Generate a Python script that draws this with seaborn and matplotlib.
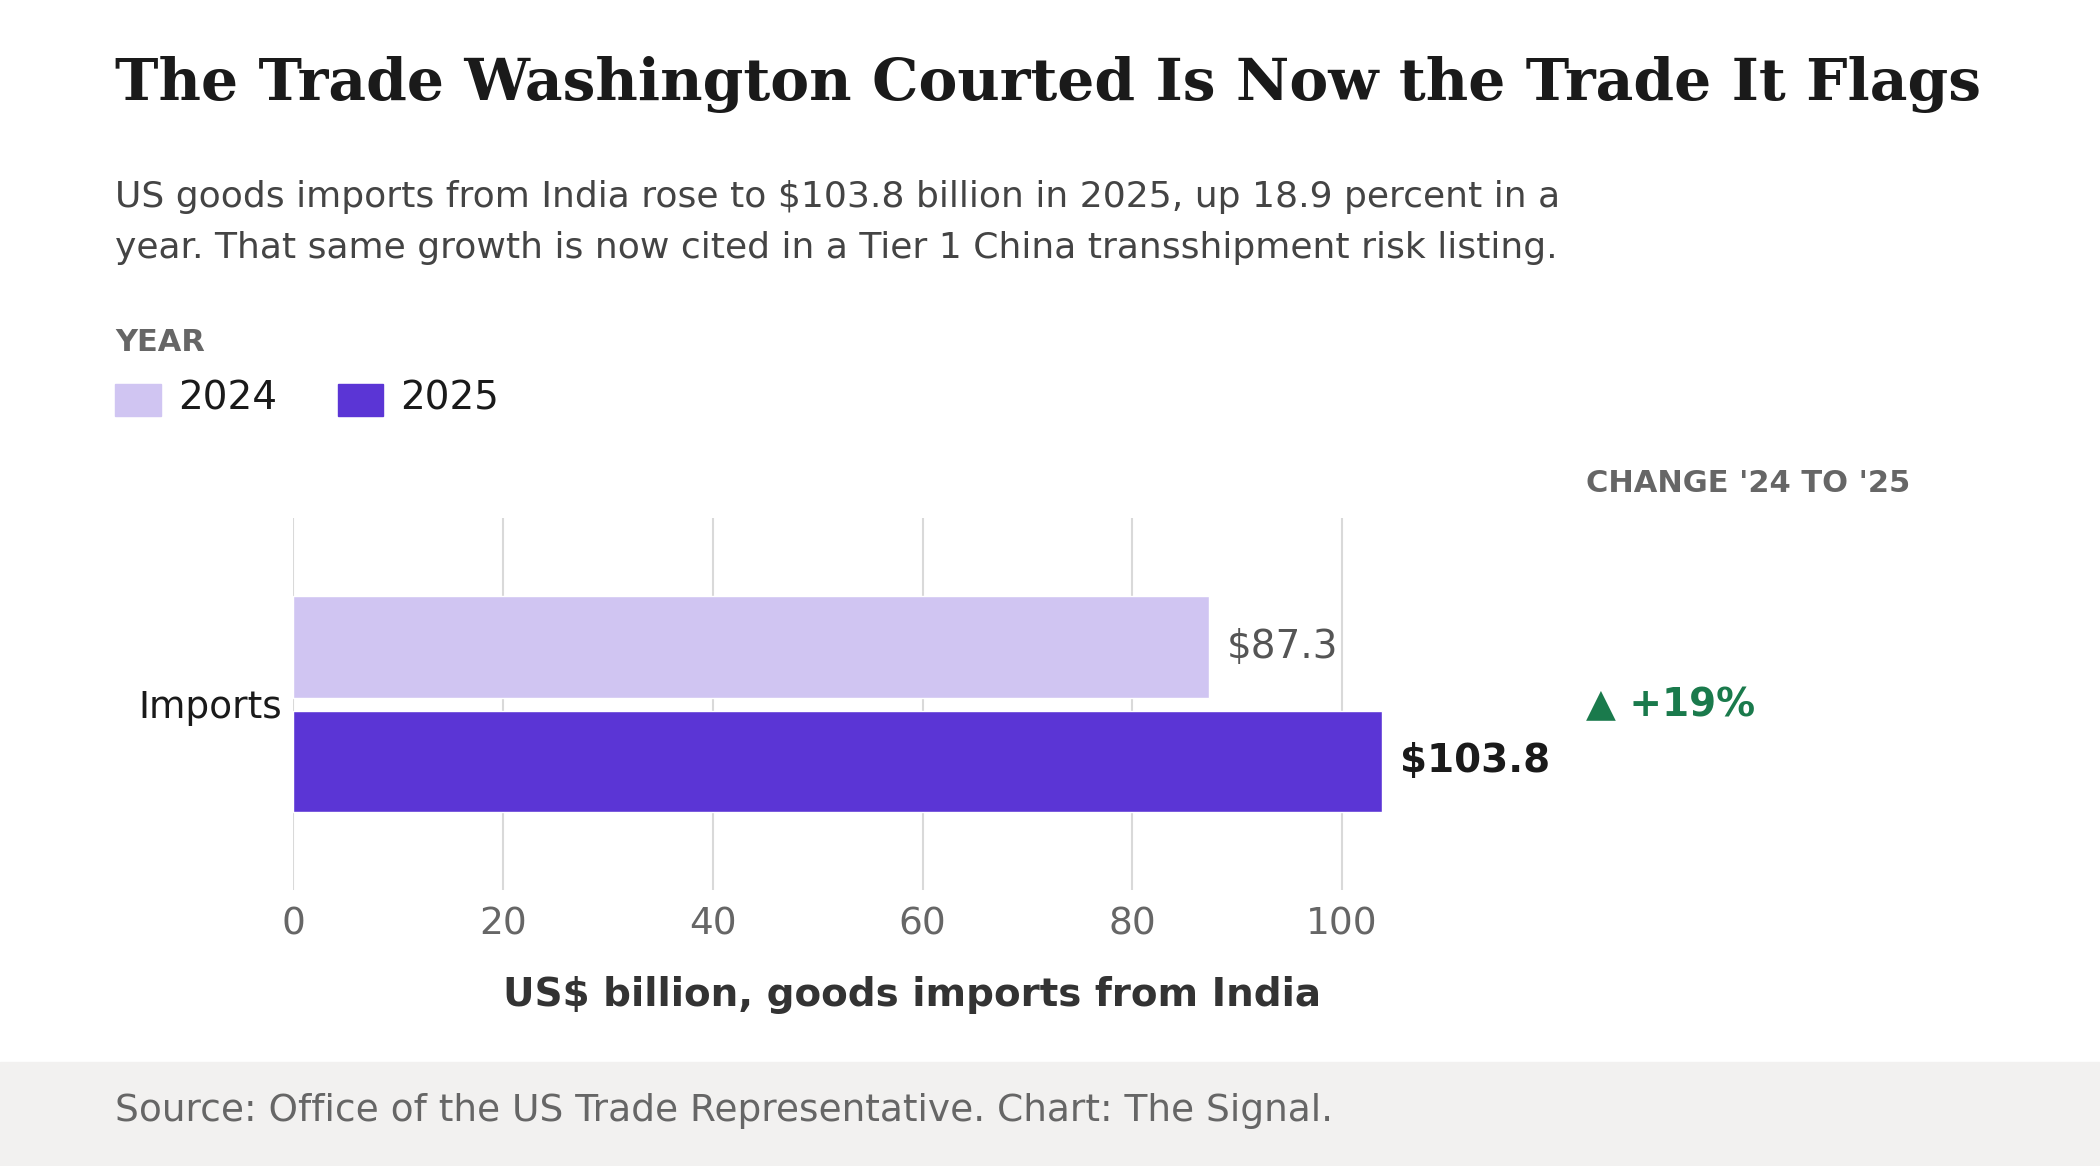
import matplotlib
matplotlib.use("Agg")
import matplotlib.pyplot as plt
import seaborn as sns
import pandas as pd
from matplotlib.patches import Rectangle

categories = ["Imports"]
years = ["2024", "2025"]
values_2024 = [87.3]
values_2025 = [103.8]
ticks = [0, 20, 40, 60, 80, 100]
change_label = "▲ +19%"

df = pd.DataFrame({
    "cat": categories * 2,
    "year": ["2024"] * len(categories) + ["2025"] * len(categories),
    "val": values_2024 + values_2025,
})

sns.set_theme(style="white")
plt.rcParams["font.family"] = ["DejaVu Sans"]
c24, c25 = "#d0c5f2", "#5b35d5"

fig = plt.figure(figsize=(21, 11.66), dpi=100)
fig.patches.append(Rectangle((0, 0), 1, 78/871, transform=fig.transFigure, color="#f2f1f0", zorder=0))

ax = fig.add_axes([219/1568, 1-665/871, (1143-219)/1568, (665-387)/871])
sns.barplot(data=df, y="cat", x="val", hue="year", palette=[c24, c25], orient="h",
            ax=ax, legend=False, saturation=1, width=0.8)
for p in ax.patches:
    y, h = p.get_y(), p.get_height()
    p.set_y(y + 0.0225); p.set_height(h - 0.045)
ax.set_xlim(0, 118)
ax.set_ylim(0.65, -0.65)
ax.xaxis.grid(True, color="#d9d9d9", lw=1.5)
ax.set_axisbelow(True)
for s in ax.spines.values():
    s.set_visible(False)
ax.tick_params(axis="x", labelsize=27, colors="#666666", length=0, pad=12)
ax.tick_params(axis="y", labelsize=27, colors="#1a1a1a", length=0, pad=8)
ax.set_ylabel("")
ax.set_xlabel("US$ billion, goods imports from India", fontsize=28, fontweight="bold",
              color="#333333", labelpad=24)
ax.set_xticks(ticks, [str(t) for t in ticks])

for i, cat in enumerate(categories):
    ax.text(values_2024[i] + 1.7, i - 0.2, f"${values_2024[i]}", va="center", fontsize=28, color="#555555")
    ax.text(values_2025[i] + 1.7, i + 0.2, f"${values_2025[i]}", va="center", fontsize=28,
            color="#1a1a1a", fontweight="bold")

fig.text(86/1568, 1-63/871, "The Trade Washington Courted Is Now the Trade It Flags", fontsize=42,
         fontweight="bold", family="DejaVu Serif", color="#1a1a1a", va="center")
fig.text(86/1568, 1-147/871, "US goods imports from India rose to $103.8 billion in 2025, up 18.9 percent in a",
         fontsize=26, color="#444444", va="center")
fig.text(86/1568, 1-185/871, "year. That same growth is now cited in a Tier 1 China transshipment risk listing.",
         fontsize=26, color="#444444", va="center")
fig.text(86/1568, 1-256/871, "YEAR", fontsize=22, fontweight="bold", color="#666666", va="center")
for x0, col, lab in [(86, c24, years[0]), (252, c25, years[1])]:
    fig.patches.append(Rectangle((x0/1568, 1-311/871), 34/1568, 24/871, transform=fig.transFigure, color=col))
    fig.text((x0+47)/1568, 1-298/871, lab, fontsize=28, color="#1a1a1a", va="center")
fig.text(1184/1568, 1-361/871, "CHANGE '24 TO '25", fontsize=22, fontweight="bold", color="#666666", va="center")
fig.text(1184/1568, 1-527/871, change_label, fontsize=28, fontweight="bold", color="#1a7a4c", va="center")
fig.text(86/1568, 1-830/871, "Source: Office of the US Trade Representative. Chart: The Signal.",
         fontsize=27, color="#666666", va="center")

fig.savefig("out.png", dpi=100)
